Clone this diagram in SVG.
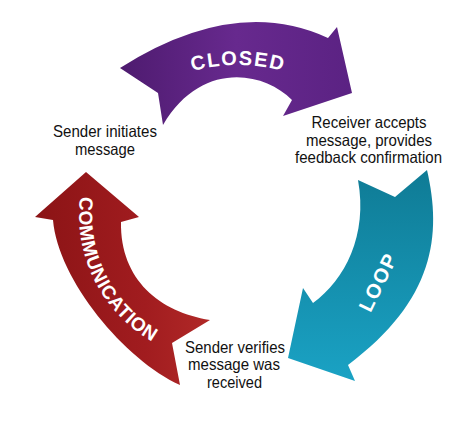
<svg xmlns="http://www.w3.org/2000/svg" xmlns:xlink="http://www.w3.org/1999/xlink" width="474" height="427" viewBox="0 0 474 427">
  <defs>
    <linearGradient id="gPurple" x1="120" y1="60" x2="352" y2="60" gradientUnits="userSpaceOnUse">
      <stop offset="0" stop-color="#4e1b6f"/>
      <stop offset="0.5" stop-color="#67298e"/>
      <stop offset="1" stop-color="#5b2283"/>
    </linearGradient>
    <linearGradient id="gTeal" x1="0" y1="170" x2="0" y2="380" gradientUnits="userSpaceOnUse">
      <stop offset="0" stop-color="#0f7b95"/>
      <stop offset="1" stop-color="#1aa2c4"/>
    </linearGradient>
    <linearGradient id="gRed" x1="40" y1="0" x2="215" y2="0" gradientUnits="userSpaceOnUse">
      <stop offset="0" stop-color="#8c1416"/>
      <stop offset="0.6" stop-color="#a11c1f"/>
      <stop offset="1" stop-color="#b22a28"/>
    </linearGradient>
    <path id="arcClosed" d="M153,87.8 A170,170 0 0 1 323,87.8"/>
    <path id="arcComm" d="M87.8,165.1 A146,146 0 0 0 182.3,354.6"/>
    <style>
      .lbl { font-family: "Liberation Sans", Arial, sans-serif; font-size: 16.5px; fill: #111; text-anchor: middle; }
      .arw { font-family: "Liberation Sans", Arial, sans-serif; font-weight: bold; fill: #ffffff; }
    </style>
  </defs>
  <rect width="474" height="427" fill="#ffffff"/>

  <g id="connectors">
    <g id="arrow-closed">
      <path fill="url(#gPurple)" d="M120,68 Q235,-5 328,38 L337,27 L352,93 L283,116 L292,100 C262,70 200,62 163,125 L158,93 Z"/>
      <text class="arw" font-size="20" letter-spacing="1.5"><textPath xlink:href="#arcClosed" href="#arcClosed" startOffset="50%" text-anchor="middle">CLOSED</textPath></text>
    </g>
    <g id="arrow-loop">
      <path fill="url(#gTeal)" d="M358,180 L395,197 L427,170 C442,235 435,300 348,365 L355,381 L288,358 L303,288 L313,303 C345,280 368,235 358,180 Z"/>
      <text class="arw" font-size="20" letter-spacing="1.5" text-anchor="middle" transform="translate(378,282) rotate(-64)" dy="7">LOOP</text>
    </g>
    <g id="arrow-communication">
      <path fill="url(#gRed)" d="M86,172 L139,217 L121,222 C120,280 160,312 210,320 L172,343 L180,385 C125,360 58,280 53,220 L35,217 Z"/>
      <text class="arw" font-size="19" letter-spacing="0.6"><textPath xlink:href="#arcComm" href="#arcComm" startOffset="50%" text-anchor="middle">COMMUNICATION</textPath></text>
    </g>
  </g>

  <g id="node-sender-initiates">
    <text class="lbl" x="105" y="137" textLength="104" lengthAdjust="spacingAndGlyphs">Sender initiates</text>
    <text class="lbl" x="105" y="154.5" textLength="60" lengthAdjust="spacingAndGlyphs">message</text>
  </g>
  <g id="node-receiver-accepts">
    <text class="lbl" x="369" y="128" textLength="115" lengthAdjust="spacingAndGlyphs">Receiver accepts</text>
    <text class="lbl" x="369" y="145.5" textLength="126" lengthAdjust="spacingAndGlyphs">message, provides</text>
    <text class="lbl" x="368.5" y="163" textLength="147" lengthAdjust="spacingAndGlyphs">feedback confirmation</text>
  </g>
  <g id="node-sender-verifies">
    <text class="lbl" x="235" y="352.5" textLength="100" lengthAdjust="spacingAndGlyphs">Sender verifies</text>
    <text class="lbl" x="234" y="370" textLength="92" lengthAdjust="spacingAndGlyphs">message was</text>
    <text class="lbl" x="234.5" y="387.5" textLength="55" lengthAdjust="spacingAndGlyphs">received</text>
  </g>
</svg>
